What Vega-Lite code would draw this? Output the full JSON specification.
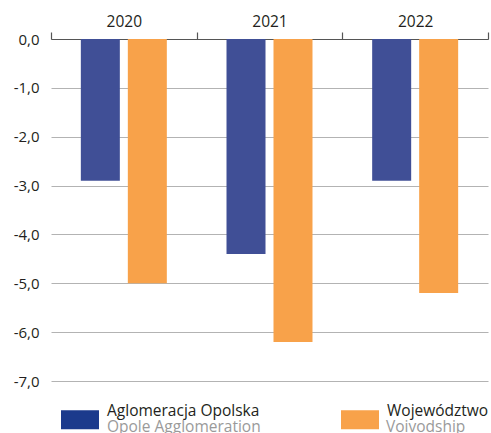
{
  "$schema": "https://vega.github.io/schema/vega-lite/v6.json",
  "autosize": {"type": "none"},
  "padding": {"left": 51, "top": 39, "right": 3, "bottom": 52},
  "width": 437,
  "height": 342,
  "background": "white",
  "config": {
    "view": {"stroke": null},
    "font": "Open Sans",
    "axis": {"labelFont": "Open Sans", "labelFontSize": 15, "labelColor": "#231f20"},
    "legend": {"labelFont": "Open Sans", "labelFontSize": 15.5}
  },
  "data": {
    "values": [
      {"year": "2020", "series": "Aglomeracja Opolska", "en": "Opole Agglomeration", "value": -2.9},
      {"year": "2020", "series": "Województwo", "en": "Voivodship", "value": -5.0},
      {"year": "2021", "series": "Aglomeracja Opolska", "en": "Opole Agglomeration", "value": -4.4},
      {"year": "2021", "series": "Województwo", "en": "Voivodship", "value": -6.2},
      {"year": "2022", "series": "Aglomeracja Opolska", "en": "Opole Agglomeration", "value": -2.9},
      {"year": "2022", "series": "Województwo", "en": "Voivodship", "value": -5.2}
    ]
  },
  "encoding": {
    "x": {
      "field": "year", "type": "nominal",
      "scale": {"paddingInner": 0, "paddingOuter": 0},
      "axis": {
        "orient": "top", "title": null, "labelAngle": 0,
        "domainColor": "#555555", "domainWidth": 1.2,
        "tickBand": "extent", "tickColor": "#555555", "tickSize": 7, "tickWidth": 1.2,
        "labelPadding": 3, "labelFontSize": 15.5, "labelDx": 6, "grid": false
      }
    },
    "xOffset": {
      "field": "series", "type": "nominal",
      "scale": {"paddingInner": 0.17, "paddingOuter": 0.635}
    }
  },
  "layer": [
    {
      "mark": {"type": "bar"},
      "encoding": {
        "y": {
          "field": "value", "type": "quantitative",
          "scale": {"domain": [-7, 0], "nice": false, "zero": true},
          "axis": {
            "title": null, "domain": false, "ticks": false,
            "values": [0, -1, -2, -3, -4, -5, -6, -7],
            "gridColor": "#b3b3b3", "gridWidth": 1.2,
            "labelPadding": 12,
            "labelExpr": "replace(replace(format(datum.value, '.1f'), '.', ','), '\u2212', '-')"
          }
        },
        "fill": {
          "field": "series", "type": "nominal",
          "scale": {"range": ["#404f96", "#f8a24a"]},
          "legend": null
        },
        "opacity": {
          "field": "en", "type": "nominal",
          "scale": {"range": [1, 1]},
          "legend": {
            "orient": "none", "legendX": 10, "legendY": 373.5,
            "direction": "horizontal", "columns": 2, "title": null,
            "padding": 0,
            "symbolFillColor": "transparent", "symbolStrokeColor": "transparent",
            "symbolType": "M-1,-0.5H1V0.5H-1Z", "symbolSize": 1444,
            "symbolStrokeWidth": 0, "labelOffset": 8, "columnPadding": 79,
            "gridAlign": "each", "labelLimit": 400,
            "labelColor": "#9a9a9a",
            "labelBaseline": "alphabetic"
          }
        }
      }
    },
    {
      "mark": {"type": "bar"},
      "encoding": {
        "y": {"datum": 0, "type": "quantitative"},
        "y2": {"datum": 0},
        "color": {
          "field": "series", "type": "nominal",
          "scale": {"range": ["#1b3a8c", "#f8a24a"]},
          "legend": {
            "orient": "none", "legendX": 10, "legendY": 361.5,
            "direction": "horizontal", "columns": 2, "title": null,
            "padding": 0, "symbolOpacity": 1,
            "symbolType": "M-1,-0.5H1V0.5H-1Z", "symbolSize": 1444,
            "symbolStrokeWidth": 0, "labelOffset": 8, "columnPadding": 81,
            "gridAlign": "each", "labelLimit": 400,
            "labelColor": "#231f20",
            "labelBaseline": "line-bottom", "labelLineHeight": 24
          }
        }
      }
    }
  ]
}
